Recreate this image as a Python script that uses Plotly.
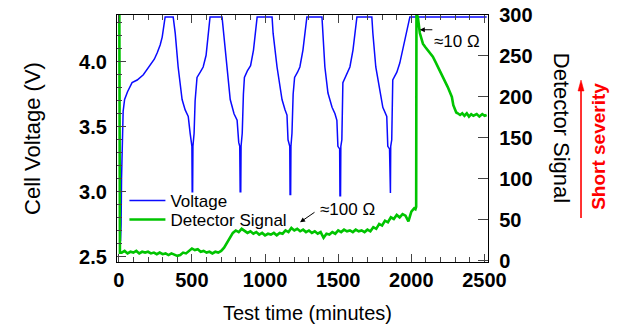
import plotly.graph_objects as go

# ---------------- data ----------------
volt_time = [12, 16, 19, 24, 30, 40, 60, 91, 126, 168, 215, 243, 263, 283, 297, 308, 317, 372, 386, 406, 433, 454, 475, 488, 500, 502, 505, 507,
             515, 522, 535, 557, 577, 597, 611, 624, 706, 717, 741, 762, 788, 809, 820, 827, 830, 834, 836,
             844, 852, 859, 879, 901, 921, 946, 1048, 1055, 1082, 1116, 1137, 1150, 1157, 1169, 1171, 1175, 1177,
             1184, 1192, 1202, 1222, 1238, 1259, 1286, 1389, 1396, 1409, 1430, 1458, 1478, 1491, 1498, 1510, 1512, 1516, 1518,
             1525, 1532, 1560, 1580, 1601, 1628, 1730, 1737, 1757, 1785, 1805, 1832, 1839, 1851, 1853, 1857, 1859,
             1866, 1873, 1901, 1921, 1941, 1968, 1990, 2515]
volt_value = [2.62, 2.75, 3.1, 3.45, 3.62, 3.71, 3.77, 3.84, 3.86, 3.9, 3.97, 4.02, 4.07, 4.13, 4.19, 4.26, 4.345, 4.345, 4.22, 3.96, 3.71, 3.63, 3.58, 3.45, 3.35, 3.0, 3.0, 3.35,
              3.45, 3.7, 3.88, 3.92, 3.96, 4.05, 4.2, 4.345, 4.345, 4.22, 3.96, 3.71, 3.6, 3.55, 3.38, 3.35, 3.0, 3.0, 3.35,
              3.45, 3.75, 3.88, 3.93, 3.97, 4.09, 4.345, 4.345, 4.22, 3.96, 3.71, 3.63, 3.59, 3.4, 3.35, 2.98, 2.98, 3.35,
              3.45, 3.75, 3.88, 3.92, 3.96, 4.09, 4.345, 4.345, 4.22, 3.96, 3.76, 3.65, 3.6, 3.55, 3.35, 3.33, 2.97, 2.97, 3.35,
              3.4, 3.84, 3.91, 3.96, 4.09, 4.345, 4.345, 4.22, 3.96, 3.76, 3.65, 3.58, 3.35, 3.33, 2.99, 2.99, 3.35,
              3.4, 3.86, 3.92, 3.99, 4.09, 4.22, 4.345, 4.345]

det_time = [0, 4, 8, 20, 40, 60, 80, 100, 120, 140, 160, 180, 200, 220, 240, 260, 280, 300, 320, 340, 360, 380, 400,
            420, 440, 460, 480, 500, 520, 540, 560, 580, 600, 620, 640, 660, 680, 700, 720, 740, 760, 780, 800,
            820, 840, 860, 880, 900, 920, 940, 960, 980, 1000, 1020, 1040, 1060, 1080, 1100, 1120, 1140, 1160, 1180, 1200,
            1220, 1240, 1260, 1280, 1300, 1320, 1340, 1360, 1380, 1400, 1420, 1440, 1460, 1480, 1500, 1520, 1540, 1560, 1580, 1600,
            1620, 1640, 1660, 1680, 1700, 1720, 1740, 1760, 1780, 1800, 1820, 1840, 1860, 1880, 1900, 1920, 1940, 1960, 1980, 2000,
            2010, 2020, 2028, 2033, 2035, 2044, 2058, 2079, 2095, 2112, 2130, 2147, 2164, 2181, 2198, 2215, 2232, 2249, 2263, 2277,
            2287, 2297, 2307, 2317, 2333, 2348, 2363, 2379, 2394, 2409, 2424, 2447, 2465, 2485, 2501, 2515]
det_value = [300, 300, 10, 10, 12, 9, 11, 10, 12, 9, 11, 10, 11, 9, 10, 8, 10, 8, 9, 7, 9, 7, 6,
             7, 10, 9, 12, 15, 13, 14, 11, 12, 10, 11, 9, 11, 10, 12, 16, 22, 28, 34, 37,
             35, 39, 37, 34, 36, 33, 35, 32, 34, 31, 33, 32, 34, 31, 34, 33, 37, 35, 40, 37,
             39, 36, 38, 35, 37, 34, 36, 33, 35, 28, 33, 32, 35, 33, 37, 35, 38, 36, 37, 35,
             38, 36, 37, 35, 38, 36, 41, 39, 45, 43, 49, 47, 53, 51, 56, 53, 57, 55, 48, 60,
             62, 64, 63, 66, 300, 298, 278, 265, 261, 257, 253, 249, 243, 237, 231, 224, 218, 212, 206, 200,
             190, 184, 181, 180, 178, 180, 177, 180, 176, 179, 177, 179, 176, 179, 177, 178]

x_ticks = [0, 500, 1000, 1500, 2000, 2500]
volt_ticks = [2.5, 3.0, 3.5, 4.0]
det_ticks = [0, 50, 100, 150, 200, 250, 300]

FONT = "Liberation Sans, Arial, sans-serif"
BLUE = "#0a0aff"
GREEN = "#00c400"
RED = "#ff0000"

fig = go.Figure()
fig.add_trace(go.Scatter(x=volt_time, y=volt_value, mode="lines", name="Voltage",
                         line=dict(color=BLUE, width=1.5), yaxis="y", legend="legend"))
fig.add_trace(go.Scatter(x=det_time, y=det_value, mode="lines", name="Detector Signal",
                         line=dict(color=GREEN, width=2.6), yaxis="y2", legend="legend2"))

tickfont = dict(family=FONT, size=20, color="black", weight="bold")
legfont = dict(family=FONT, size=17, color="black")

fig.update_layout(
    width=618, height=326,
    margin=dict(l=117, r=130, t=15, b=64, autoexpand=False),
    paper_bgcolor="white", plot_bgcolor="white",
    font=dict(family=FONT, color="black"),
    xaxis=dict(range=[-12, 2524], tickvals=x_ticks, ticks="inside", ticklen=8, tickwidth=1,
               showline=True, linecolor="black", linewidth=1.3, mirror="ticks",
               showgrid=False, zeroline=False, tickfont=tickfont,
               minor=dict(dtick=100, ticks="inside", ticklen=5, tickwidth=1, showgrid=False)),
    yaxis=dict(range=[2.46, 4.36], tickvals=volt_ticks, tickformat=".1f", ticks="inside", ticklen=9,
               showline=True, linecolor="black", linewidth=1.3, showgrid=False, zeroline=False,
               tickfont=tickfont, ticklabelstandoff=5,
               minor=dict(dtick=0.1, ticks="inside", ticklen=5, tickwidth=1, showgrid=False)),
    yaxis2=dict(range=[-1.5, 300], tickvals=det_ticks, ticks="inside", ticklen=10, overlaying="y",
                side="right", showline=True, linecolor="black", linewidth=1.3, showgrid=False,
                zeroline=False, tickfont=tickfont, ticklabelstandoff=6),
    legend=dict(x=0.02, y=0.247, xanchor="left", yanchor="middle", bgcolor="rgba(0,0,0,0)",
                font=legfont, itemwidth=36),
    legend2=dict(x=0.02, y=0.170, xanchor="left", yanchor="middle", bgcolor="rgba(0,0,0,0)",
                 font=legfont, itemwidth=36),
    showlegend=True,
)

ann = []
ann.append(dict(text="Cell Voltage (V)", x=-0.228, y=0.5, xref="paper", yref="paper", showarrow=False,
                textangle=-90, font=dict(family=FONT, size=22, color="black"), xanchor="center", yanchor="middle"))
ann.append(dict(text="Test time (minutes)", x=0.513, y=-0.205, xref="paper", yref="paper", showarrow=False,
                font=dict(family=FONT, size=20, color="black"), xanchor="center", yanchor="middle"))
ann.append(dict(text="Detector Signal", x=1.2, y=0.5425, xref="paper", yref="paper", showarrow=False,
                textangle=90, font=dict(family=FONT, size=22, color="black"), xanchor="center", yanchor="middle"))
ann.append(dict(text="Short severity", x=1.299, y=0.47, xref="paper", yref="paper", showarrow=False,
                textangle=-90, font=dict(family=FONT, size=19, color=RED, weight="bold"),
                xanchor="center", yanchor="middle"))
# ≈100 Ω
ann.append(dict(text="≈100 Ω", x=1362, y=62, xref="x", yref="y2", showarrow=False, xanchor="left",
                yanchor="middle", font=dict(family=FONT, size=17, color="black")))
ann.append(dict(text="", x=1239, y=47, xref="x", yref="y2", ax=16, ay=-11, showarrow=True,
                arrowhead=2, arrowsize=1, arrowwidth=1, arrowcolor="black"))
# ≈10 Ω
ann.append(dict(text="≈10 Ω", x=2311, y=268, xref="x", yref="y2", showarrow=False, xanchor="center",
                yanchor="middle", font=dict(family=FONT, size=17, color="black")))
ann.append(dict(text="", x=2058, y=282, xref="x", yref="y2", ax=14, ay=0, showarrow=True,
                arrowhead=2, arrowsize=1, arrowwidth=1, arrowcolor="black"))
fig.update_layout(annotations=ann)

# red "short severity" arrow (paper coordinates)
fig.add_shape(type="line", xref="paper", yref="paper", x0=1.2507, x1=1.2507, y0=0.178, y1=0.70,
              line=dict(color=RED, width=1.6))
fig.add_shape(type="path", xref="paper", yref="paper",
              path="M 1.2507 0.7368 L 1.2426 0.6923 L 1.2588 0.6923 Z",
              fillcolor=RED, line=dict(color=RED, width=0.5))

fig.write_html("out.html", config={"displayModeBar": False},
               post_script="document.body.style.margin='0px';")
